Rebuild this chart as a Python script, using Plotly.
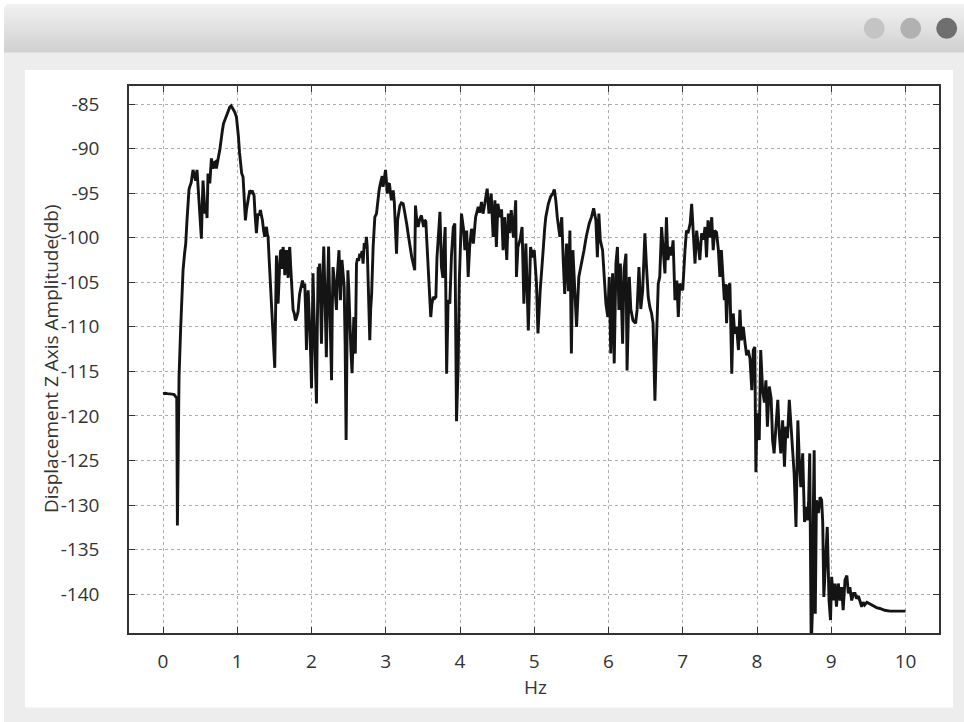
import plotly.graph_objects as go

# Displacement spectrum, Z axis (frequency in Hz, amplitude in dB)
freq_hz = [
    0.00, 0.03, 0.06, 0.09, 0.12, 0.15, 0.17, 0.185, 0.194, 0.216, 0.238, 0.255, 0.27, 0.29,
    0.306, 0.322, 0.337, 0.35, 0.36, 0.38, 0.404, 0.42, 0.44, 0.458, 0.47, 0.481, 0.5, 0.517,
    0.528, 0.539, 0.552, 0.566, 0.58, 0.593, 0.606, 0.63, 0.652, 0.664, 0.674, 0.69, 0.705,
    0.719, 0.735, 0.75, 0.764, 0.78, 0.8, 0.815, 0.831, 0.846, 0.862, 0.88, 0.899, 0.918,
    0.935, 0.95, 0.966, 0.989, 1.0, 1.016, 1.03, 1.047, 1.06, 1.078, 1.095, 1.11, 1.125,
    1.137, 1.15, 1.168, 1.185, 1.2, 1.213, 1.226, 1.24, 1.258, 1.27, 1.28, 1.296, 1.312,
    1.325, 1.339, 1.355, 1.37, 1.382, 1.393, 1.405, 1.415, 1.43, 1.47, 1.505, 1.528, 1.55,
    1.572, 1.583, 1.595, 1.606, 1.617, 1.63, 1.64, 1.652, 1.662, 1.675, 1.685, 1.695, 1.707,
    1.718, 1.73, 1.74, 1.752, 1.768, 1.784, 1.8, 1.819, 1.83, 1.84, 1.86, 1.878, 1.895,
    1.909, 1.92, 1.932, 1.944, 1.955, 1.966, 1.977, 1.99, 2.0, 2.01, 2.02, 2.032, 2.044,
    2.055, 2.067, 2.078, 2.09, 2.1, 2.11, 2.122, 2.134, 2.15, 2.165, 2.18, 2.2, 2.215, 2.23,
    2.25, 2.27, 2.28, 2.29, 2.31, 2.336, 2.35, 2.37, 2.38, 2.39, 2.4, 2.41, 2.425, 2.44,
    2.453, 2.466, 2.478, 2.49, 2.503, 2.516, 2.53, 2.546, 2.558, 2.57, 2.58, 2.59, 2.606,
    2.62, 2.635, 2.65, 2.665, 2.68, 2.695, 2.71, 2.725, 2.74, 2.75, 2.762, 2.773, 2.785,
    2.797, 2.81, 2.83, 2.853, 2.875, 2.89, 2.91, 2.925, 2.94, 2.952, 2.964, 2.98, 2.997,
    3.01, 3.02, 3.035, 3.05, 3.063, 3.077, 3.09, 3.1, 3.115, 3.125, 3.135, 3.145, 3.16,
    3.175, 3.19, 3.21, 3.234, 3.25, 3.27, 3.285, 3.3, 3.315, 3.33, 3.35, 3.37, 3.39, 3.4,
    3.415, 3.436, 3.455, 3.48, 3.495, 3.51, 3.525, 3.54, 3.557, 3.575, 3.59, 3.606, 3.62,
    3.64, 3.66, 3.675, 3.69, 3.71, 3.73, 3.75, 3.77, 3.785, 3.8, 3.82, 3.84, 3.863, 3.885,
    3.91, 3.93, 3.953, 3.975, 3.99, 4.0, 4.02, 4.05, 4.065, 4.09, 4.11, 4.13, 4.155, 4.18,
    4.21, 4.245, 4.265, 4.29, 4.31, 4.334, 4.366, 4.39, 4.42, 4.446, 4.47, 4.49, 4.51, 4.54,
    4.56, 4.58, 4.6, 4.63, 4.65, 4.67, 4.69, 4.72, 4.75, 4.76, 4.78, 4.81, 4.836, 4.86,
    4.887, 4.92, 4.95, 4.977, 5.0, 5.03, 5.05, 5.08, 5.1, 5.12, 5.14, 5.155, 5.19, 5.22,
    5.25, 5.27, 5.29, 5.31, 5.345, 5.37, 5.39, 5.41, 5.435, 5.46, 5.48, 5.5, 5.52, 5.547,
    5.57, 5.6, 5.64, 5.67, 5.7, 5.74, 5.77, 5.8, 5.83, 5.85, 5.87, 5.89, 5.92, 5.94, 5.965,
    5.99, 6.01, 6.03, 6.055, 6.077, 6.1, 6.12, 6.14, 6.16, 6.19, 6.21, 6.235, 6.25, 6.28,
    6.3, 6.33, 6.365, 6.385, 6.41, 6.435, 6.46, 6.49, 6.51, 6.535, 6.557, 6.58, 6.6, 6.625,
    6.65, 6.67, 6.69, 6.715, 6.737, 6.76, 6.78, 6.8, 6.827, 6.85, 6.87, 6.895, 6.92, 6.94,
    6.96, 7.0, 7.03, 7.05, 7.07, 7.1, 7.12, 7.14, 7.165, 7.187, 7.21, 7.23, 7.254, 7.28,
    7.3, 7.32, 7.34, 7.365, 7.39, 7.41, 7.43, 7.455, 7.48, 7.5, 7.52, 7.545, 7.56, 7.575,
    7.59, 7.61, 7.635, 7.66, 7.68, 7.7, 7.725, 7.75, 7.77, 7.79, 7.815, 7.84, 7.86, 7.88,
    7.905, 7.93, 7.95, 7.97, 7.985, 8.0, 8.03, 8.05, 8.075, 8.1, 8.12, 8.14, 8.165, 8.19,
    8.21, 8.23, 8.26, 8.28, 8.3, 8.32, 8.345, 8.37, 8.39, 8.41, 8.435, 8.457, 8.48, 8.5,
    8.525, 8.55, 8.57, 8.59, 8.615, 8.64, 8.66, 8.68, 8.695, 8.71, 8.73, 8.745, 8.76, 8.77,
    8.785, 8.8, 8.826, 8.85, 8.87, 8.885, 8.9, 8.92, 8.946, 8.97, 8.99, 9.005, 9.03, 9.05,
    9.07, 9.095, 9.12, 9.14, 9.16, 9.185, 9.21, 9.23, 9.25, 9.275, 9.3, 9.32, 9.34, 9.365,
    9.39, 9.41, 9.43, 9.45, 9.48, 9.52, 9.566, 9.61, 9.655, 9.72, 9.79, 9.88, 10.0,
]

amp_db = [
    -117.5, -117.45, -117.5, -117.5, -117.55, -117.6, -117.8, -118.0, -132.3, -115.6, -110.1,
    -106.2, -103.65, -101.8, -100.66, -98.2, -95.4, -94.6, -94.3, -93.8, -92.4, -93.1, -93.6,
    -92.4, -93.9, -95.05, -97.5, -100.1, -96.5, -93.6, -95.4, -97.3, -96.2, -97.8, -92.8,
    -93.9, -91.1, -92.0, -92.25, -91.6, -91.5, -92.25, -91.3, -90.8, -90.2, -89.0, -87.95,
    -87.2, -86.8, -86.5, -86.1, -85.7, -85.35, -85.2, -85.4, -85.6, -85.9, -86.45, -87.2,
    -88.7, -90.4, -92.07, -92.8, -93.2, -96.0, -98.05, -96.8, -96.2, -95.2, -94.7, -94.9,
    -94.7, -95.0, -95.25, -97.4, -99.5, -98.2, -97.3, -97.5, -96.9, -97.5, -98.05, -99.2,
    -99.9, -99.1, -98.8, -99.6, -99.9, -102.5, -108.5, -114.6, -102.0, -107.4, -102.9,
    -101.5, -101.4, -103.5, -101.04, -102.0, -104.2, -102.3, -101.4, -103.0, -104.5, -102.0,
    -101.04, -103.0, -105.5, -107.0, -108.1, -108.5, -109.3, -108.9, -108.3, -107.2, -106.3,
    -105.5, -104.8, -105.6, -105.15, -108.0, -112.6, -107.0, -105.9, -108.0, -110.0, -113.5,
    -116.9, -108.0, -104.0, -108.0, -112.6, -116.0, -118.6, -110.0, -103.3, -103.6, -102.9,
    -107.0, -111.9, -105.0, -101.0, -106.0, -113.4, -106.0, -101.0, -109.0, -116.0, -108.0,
    -103.3, -105.0, -108.1, -104.0, -101.4, -104.0, -107.0, -104.5, -102.5, -104.0, -105.5,
    -112.0, -122.7, -112.0, -103.65, -106.0, -110.0, -112.5, -115.2, -111.0, -108.9, -111.0,
    -113.0, -102.9, -102.3, -102.6, -101.8, -102.2, -101.5, -102.9, -100.6, -101.2, -99.9,
    -101.0, -104.0, -108.0, -111.5, -108.0, -106.3, -101.0, -97.7, -97.3, -96.0, -94.7,
    -94.0, -93.56, -93.1, -94.3, -93.0, -92.4, -93.8, -95.05, -94.0, -93.9, -95.0, -95.8,
    -95.2, -94.7, -96.0, -97.5, -99.5, -101.8, -98.0, -97.0, -96.4, -96.1, -96.2, -96.9,
    -97.7, -98.6, -99.5, -100.5, -101.4, -102.2, -102.9, -103.65, -96.4, -97.8, -98.8, -98.0,
    -97.5, -98.2, -98.8, -98.0, -98.2, -101.04, -104.5, -107.0, -108.9, -107.5, -106.65,
    -106.8, -106.65, -102.2, -99.0, -97.1, -103.3, -104.5, -101.0, -98.8, -115.25, -107.0,
    -107.4, -102.0, -98.8, -98.4, -120.6, -114.5, -105.0, -101.4, -97.3, -99.2, -101.4,
    -99.2, -104.4, -101.04, -99.0, -100.66, -97.7, -96.55, -97.2, -96.0, -97.3, -96.2, -94.5,
    -97.3, -95.05, -99.9, -95.8, -101.04, -96.2, -97.7, -96.8, -101.4, -97.7, -102.5, -97.3,
    -99.5, -96.9, -100.0, -95.8, -104.4, -101.04, -100.2, -98.8, -107.4, -100.66, -110.4,
    -101.04, -102.2, -101.4, -105.15, -110.75, -105.9, -103.0, -101.4, -99.0, -97.7, -96.2,
    -95.4, -95.05, -94.6, -95.8, -97.7, -99.9, -97.7, -102.5, -106.3, -100.66, -106.0, -99.2,
    -113.0, -101.4, -107.0, -110.0, -104.4, -102.9, -101.4, -99.9, -98.4, -97.7, -96.7,
    -98.05, -102.2, -97.3, -100.3, -101.4, -104.8, -107.4, -108.9, -104.4, -113.0, -104.0,
    -114.1, -102.9, -101.04, -108.1, -102.9, -111.9, -103.5, -101.8, -114.9, -104.4, -108.0,
    -109.3, -109.6, -108.1, -103.3, -108.0, -105.9, -99.5, -103.0, -106.65, -107.8, -108.5,
    -109.6, -118.3, -110.4, -105.15, -104.4, -98.8, -101.4, -104.0, -97.7, -102.5, -101.04,
    -102.0, -100.3, -107.0, -104.8, -108.9, -105.15, -105.9, -101.4, -99.2, -99.5, -98.4,
    -96.2, -99.9, -102.9, -99.2, -101.4, -102.5, -99.5, -100.2, -98.8, -102.2, -98.05,
    -100.0, -97.7, -101.4, -99.2, -99.4, -101.4, -104.4, -101.4, -105.15, -107.0, -105.2,
    -109.6, -105.5, -105.15, -115.25, -108.5, -110.75, -110.0, -112.6, -108.1, -111.5,
    -110.0, -111.9, -113.2, -112.6, -113.55, -117.1, -112.6, -112.26, -126.3, -119.7, -122.7,
    -112.6, -117.1, -118.5, -116.0, -121.2, -116.7, -118.0, -122.7, -124.2, -121.2, -118.2,
    -122.0, -124.2, -120.5, -125.7, -121.2, -122.5, -118.2, -121.2, -125.0, -126.45, -132.45,
    -120.5, -125.0, -128.0, -124.2, -131.9, -130.2, -131.7, -129.5, -124.2, -146.0, -142.2,
    -129.45, -123.85, -142.2, -129.45, -130.9, -129.1, -129.45, -131.9, -140.3, -136.9,
    -132.45, -140.7, -142.9, -138.05, -140.7, -138.8, -141.4, -138.8, -140.7, -139.2, -141.8,
    -138.4, -137.9, -139.9, -139.2, -140.7, -139.9, -139.9, -140.5, -140.2, -141.0, -141.4,
    -140.9, -141.2, -140.9, -141.1, -141.3, -141.5, -141.6, -141.8, -141.9, -141.9, -141.9,
]

x_ticks = list(range(0, 11))
y_ticks = [-85, -90, -95, -100, -105, -110, -115, -120, -125, -130, -135, -140]
x_title = "Hz"
y_title = "Displacement Z Axis Amplitude(db)"

# ---- page geometry (pixels) ----
W, H = 964, 722
ML, MR, MT, MB = 129, 25, 86, 89
PW, PH = W - ML - MR, H - MT - MB


def px(x):
    return (x - ML) / PW


def py(y):
    return (H - MB - y) / PH


TEXT = "#333333"
FONT = "Open Sans"

shapes = []

# window body
shapes.append(dict(type="rect", xref="paper", yref="paper", layer="below",
                   x0=px(4), x1=px(980), y0=py(4), y1=py(740),
                   fillcolor="#ededed", line=dict(width=0)))

# title bar with a vertical grey gradient
top_rgb, bot_rgb = (241, 241, 241), (209, 209, 209)
n_strips = 24
y_top, y_bot = 4.0, 52.0
step = (y_bot - y_top) / n_strips
for i in range(n_strips):
    t = i / (n_strips - 1)
    c = tuple(round(a + (b - a) * t) for a, b in zip(top_rgb, bot_rgb))
    shapes.append(dict(type="rect", xref="paper", yref="paper", layer="below",
                       x0=px(4), x1=px(980),
                       y0=py(y_top + i * step), y1=py(y_top + (i + 1) * step + 0.6),
                       fillcolor="rgb(%d,%d,%d)" % c, line=dict(width=0)))

# rounded top-left corner of the window
r = 7
shapes.append(dict(type="path", xref="paper", yref="paper", layer="below",
                   path="M %f,%f L %f,%f Q %f,%f %f,%f Z" % (
                       px(3), py(3), px(4 + r), py(3), px(4), py(4), px(3), py(4 + r)),
                   fillcolor="white", line=dict(width=0)))

# white drawing panel
shapes.append(dict(type="rect", xref="paper", yref="paper", layer="below",
                   x0=px(25), x1=px(953), y0=py(70), y1=py(707.5),
                   fillcolor="white", line=dict(width=0)))

# window buttons
for cx, col in [(874.3, "#c4c4c4"), (910.7, "#b1b1b1"), (946.7, "#6f6f6f")]:
    rad = 10.5
    shapes.append(dict(type="circle", xref="paper", yref="paper", layer="below",
                       x0=px(cx - rad), x1=px(cx + rad),
                       y0=py(28.3 - rad), y1=py(28.3 + rad),
                       fillcolor=col, line=dict(width=0)))

fig = go.Figure()
fig.add_trace(go.Scatter(
    x=freq_hz, y=amp_db, mode="lines",
    line=dict(color="#141414", width=2.9),
    hoverinfo="skip", showlegend=False,
))

axis_common = dict(
    showgrid=True, gridcolor="#adadad", gridwidth=1, griddash="dot",
    zeroline=False, showline=True, linecolor="#333333", linewidth=1.6, mirror="ticks",
    ticks="inside", ticklen=6, tickwidth=1, tickcolor="#333333",
    tickfont=dict(family=FONT, size=19, color=TEXT),
)

fig.update_xaxes(range=[-0.458, 10.451], tickmode="array", tickvals=x_ticks,
                 ticktext=[str(v) for v in x_ticks], ticklabelstandoff=10, **axis_common)
fig.update_yaxes(range=[-144.35, -82.98], tickmode="array", tickvals=y_ticks,
                 ticktext=[str(v) for v in y_ticks], ticklabelstandoff=24, **axis_common)

fig.update_layout(
    width=W, height=H,
    margin=dict(l=ML, r=MR, t=MT, b=MB, pad=0),
    paper_bgcolor="white", plot_bgcolor="white",
    shapes=shapes,
    annotations=[
        dict(text=x_title, xref="paper", yref="paper", x=px(535), y=py(687),
             xanchor="center", yanchor="middle", showarrow=False,
             font=dict(family=FONT, size=19, color=TEXT)),
        dict(text=y_title, xref="paper", yref="paper", x=px(51), y=py(359),
             xanchor="center", yanchor="middle", textangle=-90, showarrow=False,
             font=dict(family=FONT, size=19, color=TEXT)),
    ],
)

fig.write_html("out.html")
